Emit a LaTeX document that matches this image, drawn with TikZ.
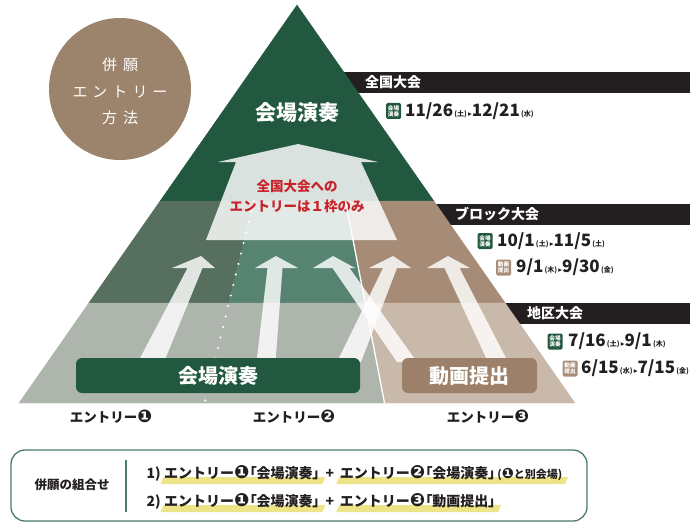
\documentclass[tikz,border=0pt]{standalone}
\usepackage{fontspec}
\usepackage{graphicx}
\setmainfont{Noto Sans CJK JP}
\newfontfamily\jp{Noto Sans CJK JP}
\newfontfamily\jpp{Noto Sans CJK JP}[RawFeature=+palt]
\newfontfamily\dv{DejaVu Sans}
\usetikzlibrary{calc,backgrounds}
\definecolor{dgreen}{HTML}{22583F}
\definecolor{mgl}{HTML}{566F5E}
\definecolor{mgr}{HTML}{578371}
\definecolor{mbr}{HTML}{A68B77}
\definecolor{lgray}{HTML}{ADB5AC}
\definecolor{lbeige}{HTML}{C9B9AA}
\definecolor{circc}{HTML}{9B836C}
\definecolor{boxbr}{HTML}{9C8069}
\definecolor{barc}{HTML}{231F20}
\definecolor{tred}{HTML}{C8232B}
\definecolor{framec}{HTML}{4E7B63}
\definecolor{hlc}{HTML}{EDE488}
\definecolor{icobr}{HTML}{A88E7A}
\newcommand{\dnum}[1]{{\fontsize{17}{18}\selectfont #1}}
\newcommand{\dday}[1]{{\fontsize{7}{7}\selectfont\,(#1)}}
\newcommand{\dsep}{{\dv\fontsize{7.5}{7}\selectfont\,▸}}
\newcommand{\cn}[1]{\scalebox{1.3}{\dv\bfseries #1}}
\newcommand{\lb}{{\jpp 「}}
\newcommand{\rb}{{\jpp 」}}
\newcommand{\sarrow}[9]{%
  \fill[arr] (#1-#5/2,#2) -- (#3-#6/2,268) -- (#8,268) -- (#7,256) -- (#9,268) -- (#3+#6/2,268) -- (#1+#5/2,#2) -- cycle;}
\newcommand{\hlite}[1]{%
  \fill[hlc] ($(#1.base west)+(-2,6)$) -- ($(#1.base west)+(1,-1)$) -- ($(#1.base east)+(4,-1)$) -- ($(#1.base east)+(1,6)$) -- cycle;}
\tikzset{
  every node/.style={inner sep=0pt},
  arr/.style={fill=white, opacity=0.82},
  lbl/.style={font=\jp\bfseries\fontsize{13.5}{15}\selectfont, text=barc},
  bartext/.style={anchor=west, font=\jp\bfseries\fontsize{14}{16}\selectfont, text=white},
  ico/.style={minimum width=15pt, minimum height=16pt, rounded corners=1.5pt, inner sep=0pt, align=center, font=\jp\bfseries\fontsize{5.6}{6.2}\selectfont, text=white},
  datet/.style={anchor=west, font=\jp\bfseries, text=barc},
  bigbox/.style={rounded corners=6pt, minimum height=35pt, font=\jp\bfseries\fontsize{20}{22}\selectfont, text=white},
  bottomt/.style={anchor=base west, font=\jp\bfseries\fontsize{14}{16}\selectfont, text=barc, inner xsep=1.5pt},
  circt/.style={font=\jp\fontsize{15}{17}\selectfont, text=white},
  region/.style={line width=0.3pt}
}
\begin{document}
\begin{tikzpicture}[x=1pt,y=-1pt]
\useasboundingbox (0,0) rectangle (690,524);
\begin{pgfonlayer}{background}\fill[white] (0,0) rectangle (690,524);\end{pgfonlayer}

% black level bars
\fill[barc] (330,72) rectangle (690,93);
\fill[barc] (420,204) rectangle (690,225);
\fill[barc] (490,303) rectangle (690,324);
\node[bartext] (t1) at (365,82.5) {全国大会};
\node[bartext] (t2) at (455,214.5) {ブロック大会};
\node[bartext] (t3) at (527,313.5) {地区大会};

% triangle
\coordinate (apex) at (297,5);
\coordinate (tl) at (160.1,201); \coordinate (tr) at (433.9,201);
\coordinate (ml) at (88.8,303);  \coordinate (mr) at (505.2,303);
\coordinate (bl) at (19,403);    \coordinate (br) at (575,403);
\coordinate (d1) at (253.7,201); \coordinate (d2) at (228.9,303); \coordinate (d3) at (204.6,403);
\coordinate (s1) at (345.5,201); \coordinate (s2) at (365.2,303); \coordinate (s3) at (384.5,403);
\filldraw[region, dgreen] (apex) -- (tr) -- (tl) -- cycle;
\filldraw[region, mgl] (tl) -- (d1) -- (d2) -- (ml) -- cycle;
\filldraw[region, mgr] (d1) -- (s1) -- (s2) -- (d2) -- cycle;
\filldraw[region, mbr] (s1) -- (tr) -- (mr) -- (s2) -- cycle;
\filldraw[region, lgray] (ml) -- (s2) -- (s3) -- (bl) -- cycle;
\filldraw[region, lbeige] (s2) -- (mr) -- (br) -- (s3) -- cycle;

\node[font=\jp\bfseries\fontsize{21}{23}\selectfont, text=white] (top) at (297,113) {会場演奏};

% big arrow to national
\fill[white, opacity=0.83] (298,144) -- (378,162) -- (361,162) -- (397,240) -- (206,240) -- (236,162) -- (218,162) -- cycle;
\node[font=\jp\bfseries\fontsize{13.5}{15}\selectfont, text=tred] (r1) at (297,186) {全国大会への};
\node[font=\jp\bfseries\fontsize{13.5}{15}\selectfont, text=tred] (r2) at (297,206) {エントリーは１枠のみ};

% split lines
\draw[white, line width=1.3pt] (s1) -- (s3);
\draw[white, line width=2.3pt, dash pattern=on 0pt off 10.8pt, line cap=round] (d1) -- (d3);

% small arrows
\sarrow{151}{362}{195}{268}{26}{15}{201}{172}{215}
\sarrow{266}{362}{275}{268}{19}{15}{276}{255}{298}
\sarrow{407}{362}{341}{268}{20}{17}{333}{313}{355}
\sarrow{349}{362}{390}{268}{24}{14}{393}{369}{411}
\sarrow{498}{362}{452}{268}{20}{15}{448}{427}{470}

% entry boxes
\node[bigbox, fill=dgreen, minimum width=284pt] (b1) at (218,375.5) {会場演奏};
\node[bigbox, fill=boxbr, minimum width=135pt] (b2) at (469.5,375.5) {動画提出};

\node[lbl] (e1) at (111,417) {エントリー\cn{❶}};
\node[lbl] (e2) at (294,417) {エントリー\cn{❷}};
\node[lbl] (e3) at (488,417) {エントリー\cn{❸}};

% circle
\node[circle, fill=circc, minimum size=142pt] (circ) at (120,89) {};
\node[circt] (c1) at (120,65) {併\hspace{6pt}願};
\node[circt] (c2) at (120,92) {エ\hspace{5pt}ン\hspace{5pt}ト\hspace{5pt}リ\hspace{5pt}ー};
\node[circt] (c3) at (120,118) {方\hspace{6pt}法};

% dates
\node[ico, fill=dgreen] (i1) at (393.5,111) {会場\\演奏};
\node[datet] (dt1) at (405,111) {\dnum{11/26}\dday{土}\dsep\dnum{12/21}\dday{水}};
\node[ico, fill=dgreen] (i2) at (485,241) {会場\\演奏};
\node[datet] (dt2) at (497,241) {\dnum{10/1}\dday{土}\dsep\dnum{11/5}\dday{土}};
\node[ico, fill=icobr] (i3) at (503.5,267.5) {動画\\提出};
\node[datet] (dt3) at (516,267.5) {\dnum{9/1}\dday{木}\dsep\dnum{9/30}\dday{金}};
\node[ico, fill=dgreen] (i4) at (555,341.5) {会場\\演奏};
\node[datet] (dt4) at (568,341.5) {\dnum{7/16}\dday{土}\dsep\dnum{9/1}\dday{木}};
\node[ico, fill=icobr] (i5) at (570,368.5) {動画\\提出};
\node[datet] (dt5) at (581,368.5) {\dnum{6/15}\dday{水}\dsep\dnum{7/15}\dday{金}};

% combination box
\draw[framec, line width=1.3pt, rounded corners=14pt] (11,450) rectangle (587,521);
\draw[framec, line width=1.6pt] (126,460) -- (126,512);
\node[font=\jp\bfseries\fontsize{12.5}{14}\selectfont, text=barc] (comb) at (72,485) {併願の組合せ};

\node[bottomt] (n1) at (145,478) {1)};
\node[bottomt] (a1) at (n1.base east) {エントリー\cn{❶}\lb 会場演奏\rb};
\node[bottomt, inner xsep=4pt] (p1) at (a1.base east) {+};
\node[bottomt] (a2) at (p1.base east) {エントリー\cn{❷}\lb 会場演奏\rb\hspace{2pt}{\fontsize{11}{12}\selectfont(\cn{❶}と別会場)}};
\node[bottomt] (n2) at (145,506) {2)};
\node[bottomt] (a3) at (n2.base east) {エントリー\cn{❶}\lb 会場演奏\rb};
\node[bottomt, inner xsep=4pt] (p2) at (a3.base east) {+};
\node[bottomt] (a4) at (p2.base east) {エントリー\cn{❸}\lb 動画提出\rb};
\begin{pgfonlayer}{background}
\hlite{a1}\hlite{a2}\hlite{a3}\hlite{a4}
\end{pgfonlayer}
\end{tikzpicture}
\end{document}
